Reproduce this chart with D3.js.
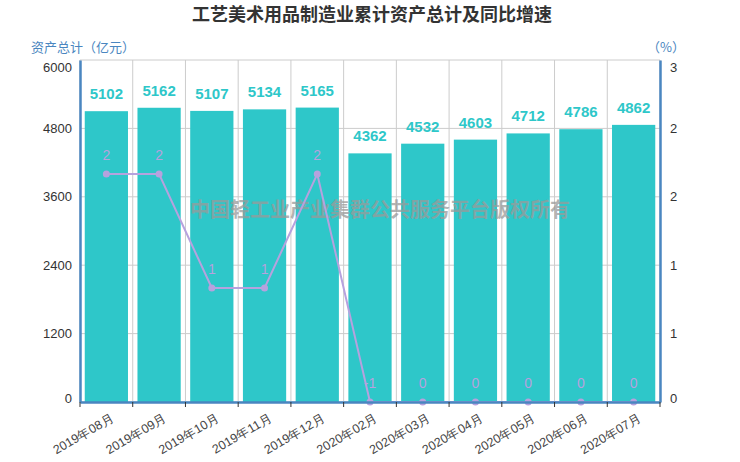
<!DOCTYPE html>
<html>
<head>
<meta charset="utf-8">
<script src="https://cdn.jsdelivr.net/npm/d3@7"></script>
<style>
    body{margin:0;background:#fff;}
    svg{font-family:"Noto Sans CJK SC","Noto Sans",sans-serif;}
</style>
</head>
<body>
<div class="chart_container"></div>
<script>
var months = ["2019年08月","2019年09月","2019年10月","2019年11月","2019年12月","2020年02月","2020年03月","2020年04月","2020年05月","2020年06月","2020年07月"];
var assets = [5102,5162,5107,5134,5165,4362,4532,4603,4712,4786,4862];   /*资产总计 亿元*/
var growth = [2,2,1,1,2,-1,0,0,0,0,0];                                   /*同比增速 %*/
var leftTicks = [0,1200,2400,3600,4800,6000];
var rightTicks = [0,0.6,1.2,1.8,2.4,3];

var W = 740, H = 462;
var margin = {top: 60, right: 80, bottom: 60, left: 80};
var width = W - margin.left - margin.right,
    height = H - margin.top - margin.bottom;

var svg = d3.select(".chart_container").append("svg")
    .attr("width", W).attr("height", H);

svg.append("text")
    .attr("x", W/2 + 2).attr("y", 21)
    .attr("text-anchor", "middle")
    .attr("font-size", 18).attr("font-weight", "bold")
    .attr("fill", "#333")
    .text("工艺美术用品制造业累计资产总计及同比增速");

var g = svg.append("g").attr("transform", "translate(" + margin.left + "," + margin.top + ")");

var x = d3.scaleBand().domain(months).range([0, width]).paddingInner(0).paddingOuter(0);
var y = d3.scaleLinear().domain([0, 6000]).range([height, 0]);
var y2 = d3.scaleLinear().domain([0, 3]).range([height, 0]).clamp(true);

/*网格线*/
g.append("g").selectAll("line.h")
    .data(leftTicks).enter().append("line")
    .attr("x1", 0).attr("x2", width)
    .attr("y1", function(d){ return y(d); }).attr("y2", function(d){ return y(d); })
    .attr("stroke", "#ccc");
g.append("g").selectAll("line.v")
    .data(d3.range(months.length + 1)).enter().append("line")
    .attr("x1", function(i){ return i * x.step(); }).attr("x2", function(i){ return i * x.step(); })
    .attr("y1", 0).attr("y2", height)
    .attr("stroke", "#ccc");

/*柱子*/
var bw = x.bandwidth() * 0.82;
g.selectAll(".bar")
    .data(assets).enter().append("rect")
    .attr("class", "bar")
    .attr("x", function(d, i){ return x(months[i]) + (x.bandwidth() - bw)/2; })
    .attr("width", bw)
    .attr("y", function(d){ return y(d); })
    .attr("height", function(d){ return height - y(d); })
    .attr("fill", "#2ec7c9");

g.selectAll(".barlabel")
    .data(assets).enter().append("text")
    .attr("x", function(d, i){ return x(months[i]) + x.bandwidth()/2; })
    .attr("y", function(d){ return y(d) - 12; })
    .attr("text-anchor", "middle")
    .attr("font-family", "'Liberation Sans', Arial, sans-serif")
    .attr("font-size", 15).attr("font-weight", "bold")
    .attr("fill", "#2ec7c9")
    .text(function(d){ return d; });

/*水印*/
g.append("text")
    .attr("x", width/2 + 10).attr("y", 157)
    .attr("text-anchor", "middle")
    .attr("font-size", 20).attr("font-weight", "bold")
    .attr("fill", "#9a9a9a").attr("fill-opacity", 0.75)
    .text("中国轻工业产业集群公共服务平台版权所有");

/*折线*/
var line = d3.line()
    .x(function(d, i){ return x(months[i]) + x.bandwidth()/2; })
    .y(function(d){ return y2(d); });
g.append("path")
    .datum(growth)
    .attr("d", line)
    .attr("fill", "none")
    .attr("stroke", "#b6a2de")
    .attr("stroke-width", 2);
g.selectAll(".dot")
    .data(growth).enter().append("circle")
    .attr("cx", function(d, i){ return x(months[i]) + x.bandwidth()/2; })
    .attr("cy", function(d){ return y2(d); })
    .attr("r", 3.5)
    .attr("fill", "#b6a2de");
g.selectAll(".linelabel")
    .data(growth).enter().append("text")
    .attr("x", function(d, i){ return x(months[i]) + x.bandwidth()/2; })
    .attr("y", function(d){ return y2(d) - 14; })
    .attr("text-anchor", "middle")
    .attr("font-family", "'Liberation Sans', Arial, sans-serif")
    .attr("font-size", 14)
    .attr("fill", "#b6a2de")
    .text(function(d){ return d; });

/*坐标轴*/
var axisColor = "#4a86c0";
var left = g.append("g")
    .call(d3.axisLeft(y).tickValues(leftTicks).tickSize(0).tickPadding(8).tickFormat(d3.format("d")));
left.select(".domain").attr("stroke", axisColor).attr("stroke-width", 2.5);
left.selectAll("text").attr("font-size", 13).attr("fill", "#333")
    .attr("font-family", "'Liberation Sans', Arial, sans-serif")
    .attr("dy", function(d){ return d === 6000 ? "0.9em" : (d === 0 ? "0" : "0.32em"); });

var right = g.append("g").attr("transform", "translate(" + width + ",0)")
    .call(d3.axisRight(y2).tickValues(rightTicks).tickSize(0).tickPadding(10)
        .tickFormat(function(d){ return Math.round(d); }));
right.select(".domain").attr("stroke", axisColor).attr("stroke-width", 2.5);
right.selectAll("text").attr("font-size", 13).attr("fill", "#333")
    .attr("font-family", "'Liberation Sans', Arial, sans-serif")
    .attr("dy", function(d){ return d === 3 ? "0.9em" : (d === 0 ? "0" : "0.32em"); });

var bottom = g.append("g").attr("transform", "translate(0," + height + ")")
    .call(d3.axisBottom(x).tickSize(0));
bottom.select(".domain").attr("stroke", axisColor).attr("stroke-width", 2.5);
bottom.selectAll(".tick text")
    .attr("font-size", 12.5).attr("fill", "#444")
    .attr("text-anchor", "end")
    .attr("dy", 0)
    .attr("transform", "translate(7,16) rotate(-30)");
bottom.selectAll(".edge")
    .data(d3.range(months.length + 1)).enter().append("line")
    .attr("x1", function(i){ return i * x.step(); }).attr("x2", function(i){ return i * x.step(); })
    .attr("y1", 0).attr("y2", 5)
    .attr("stroke", "#333");

/*轴名称*/
svg.append("text")
    .attr("x", 31).attr("y", 52)
    .attr("font-size", 13).attr("fill", "#4a86c0")
    .text("资产总计（亿元）");
svg.append("text")
    .attr("x", 647).attr("y", 52)
    .attr("font-size", 13).attr("fill", "#4a86c0")
    .text("（%）");
</script>
</body>
</html>
